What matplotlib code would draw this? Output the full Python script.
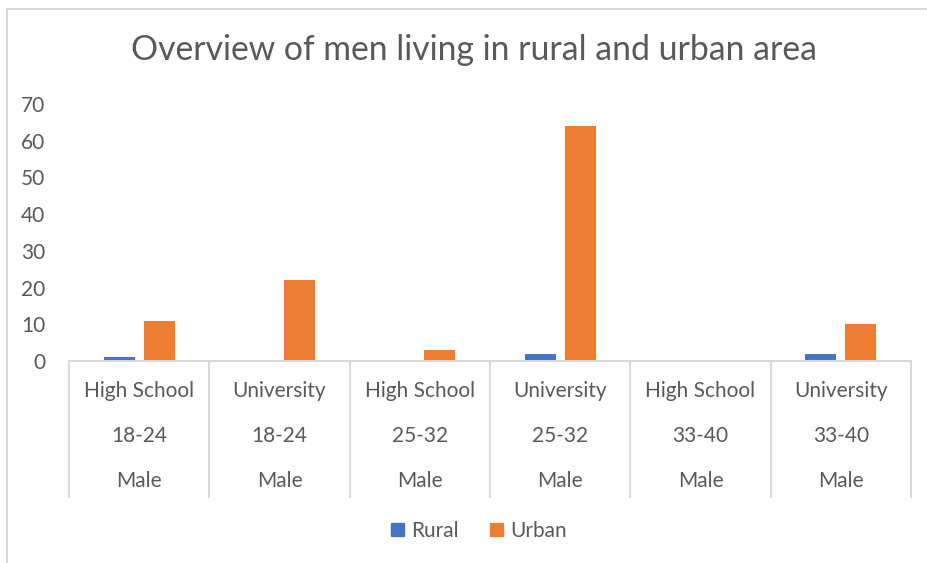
import matplotlib
matplotlib.use("Agg")
import matplotlib.pyplot as plt
from matplotlib.lines import Line2D
from matplotlib.patches import Patch
import matplotlib.transforms as mtransforms

# data
education = ["High School", "University", "High School", "University", "High School", "University"]
age_groups = ["18-24", "18-24", "25-32", "25-32", "33-40", "33-40"]
gender = ["Male", "Male", "Male", "Male", "Male", "Male"]
rural = [1, 0, 0, 2, 0, 2]
urban = [11, 22, 3, 64, 0, 10]

blue = "#4472C4"
orange = "#ED7D31"
grey_txt = "#595959"
grey_line = "#D9D9D9"

plt.rcParams["font.family"] = ["Lato", "DejaVu Sans"]

W, H = 928, 563
fig = plt.figure(figsize=(W / 100, H / 100), dpi=100)
x0, x1, y_top, y_zero = 69, 911, 104, 361
ax = fig.add_axes([x0 / W, (H - y_zero) / H, (x1 - x0) / W, (y_zero - y_top) / H])

n = len(education)
xs = list(range(n))
bw = 0.22
off = 0.143
ax.bar([x - off for x in xs], rural, width=bw, color=blue, label="Rural")
ax.bar([x + off for x in xs], urban, width=bw, color=orange, label="Urban")

ax.set_xlim(-0.5, n - 0.5)
ax.set_ylim(0, 70)
ax.set_yticks(range(0, 71, 10))
ax.tick_params(axis="y", length=0, labelsize=15, labelcolor=grey_txt, pad=17)
ax.set_xticks([])
for s in ["top", "right", "left"]:
    ax.spines[s].set_visible(False)
ax.spines["bottom"].set_color(grey_line)
ax.spines["bottom"].set_linewidth(1.5)

# multi-level category axis
trans = mtransforms.blended_transform_factory(ax.transData, ax.transAxes)
ph = y_zero - y_top
sep_bottom = -(497 - y_zero) / ph
for b in [i - 0.5 for i in range(n + 1)]:
    ax.plot([b, b], [0, sep_bottom], transform=trans, color=grey_line, lw=1.5,
            clip_on=False)
rows = [(education, 391), (age_groups, 436), (gender, 481)]
for labels, ypix in rows:
    for i, lab in enumerate(labels):
        ax.text(i, -(ypix - y_zero) / ph, lab, transform=trans, ha="center",
                va="center", fontsize=15, color=grey_txt)

fig.text(474 / W, 1 - 50 / H, "Overview of men living in rural and urban area",
         ha="center", va="center", fontsize=24.3, color=grey_txt)

handles = [Patch(color=blue, label="Rural"), Patch(color=orange, label="Urban")]
fig.legend(handles=handles, loc="center", bbox_to_anchor=(479 / W, 1 - 531 / H),
           ncol=2, frameon=False, fontsize=15, labelcolor=grey_txt,
           handlelength=0.6, handleheight=0.6, handletextpad=0.35, columnspacing=1.5)

# chart area border (top and left visible in the reference)
fig.add_artist(Line2D([7 / W, 7 / W], [0, 1 - 9 / H], transform=fig.transFigure,
                      color=grey_line, lw=1.5))
fig.add_artist(Line2D([7 / W, 1], [1 - 9 / H, 1 - 9 / H], transform=fig.transFigure,
                      color=grey_line, lw=1.5))

fig.savefig("out.png", dpi=100)
